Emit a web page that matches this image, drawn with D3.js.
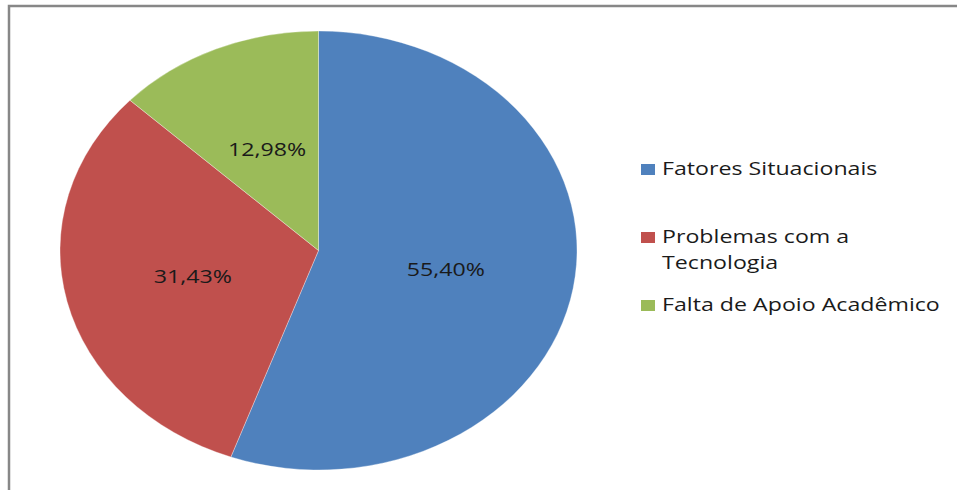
<!DOCTYPE html>
<html>
<head>
<meta charset="utf-8">
<script src="https://cdn.jsdelivr.net/npm/d3@7"></script>
<style>
  body { margin: 0; background: #fff; }
  svg { display: block; }
</style>
</head>
<body>
<svg id="chart" width="957" height="490"></svg>
<script>
// data
var categories = ["Fatores Situacionais", "Problemas com a Tecnologia", "Falta de Apoio Acadêmico"];
var values = [55.40, 31.43, 12.98];
var labels = ["55,40%", "31,43%", "12,98%"];
var legendLines = [["Fatores Situacionais"], ["Problemas com a", "Tecnologia"], ["Falta de Apoio Acadêmico"]];
var colors = ["#4F81BD", "#C0504D", "#9BBB59"];

var svg = d3.select("#chart");
var font = "'Open Sans', sans-serif";
var textStretch = 1.22; // the original chart is stretched sideways

// frame
svg.append("rect")
  .attr("x", 9)
  .attr("y", 6)
  .attr("width", 1200)
  .attr("height", 800)
  .attr("fill", "none")
  .attr("stroke", "#878787")
  .attr("stroke-width", 2.5);

// pie is a circle stretched into an ellipse
var cx = 318.5, cy = 250.5, rx = 258.5, ry = 219.5;
var r = ry;

var pie = d3.pie().sort(null).value(function (d) { return d; });
var arc = d3.arc().innerRadius(0).outerRadius(r);

var arcs = pie(values);

var g = svg.append("g")
  .attr("transform", "translate(" + cx + "," + cy + ") scale(" + (rx / r) + ",1)");

g.selectAll("path")
  .data(arcs)
  .enter()
  .append("path")
  .attr("d", arc)
  .attr("fill", function (d, i) { return colors[i]; })
  .attr("stroke", "#ffffff")
  .attr("stroke-opacity", 0.5)
  .attr("stroke-width", 0.6);

// slice labels at the centroid
svg.append("g")
  .selectAll("text")
  .data(arcs)
  .enter()
  .append("text")
  .attr("transform", function (d) {
    var c = arc.centroid(d);
    return "translate(" + (cx + c[0] * rx / r) + "," + (cy + c[1]) + ") scale(" + textStretch + ",1)";
  })
  .attr("dy", "0.35em")
  .attr("text-anchor", "middle")
  .style("font-family", font)
  .style("font-size", "19px")
  .style("fill", "#1a1a1a")
  .text(function (d, i) { return labels[i]; });

// legend
var legendY = [175, 243, 311];
var legend = svg.append("g");
categories.forEach(function (c, i) {
  legend.append("rect")
    .attr("x", 641)
    .attr("y", legendY[i] - 11)
    .attr("width", 14)
    .attr("height", 11)
    .attr("fill", colors[i]);
  var t = legend.append("text")
    .attr("transform", "translate(662," + legendY[i] + ") scale(" + textStretch + ",1)")
    .style("font-family", font)
    .style("font-size", "19px")
    .style("fill", "#1a1a1a");
  legendLines[i].forEach(function (line, j) {
    t.append("tspan")
      .attr("x", 0)
      .attr("y", j * 26)
      .text(line);
  });
});
</script>
</body>
</html>
